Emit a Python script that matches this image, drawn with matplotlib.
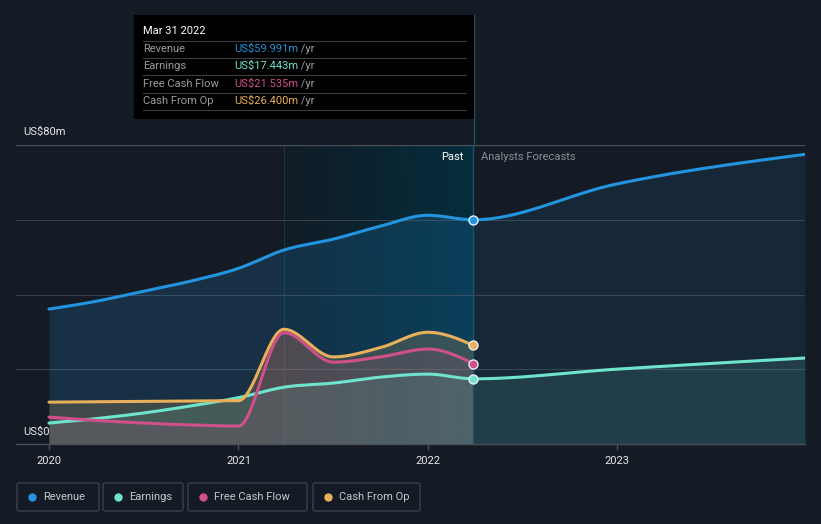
import numpy as np
import matplotlib
matplotlib.use('Agg')
import matplotlib.pyplot as plt
from matplotlib.patches import Rectangle, FancyBboxPatch
from matplotlib.colors import LinearSegmentedColormap

plt.rcParams['font.family'] = ['Roboto', 'DejaVu Sans']

# ---------------- data (US$ m) ----------------
past_t = [2020.0, 2020.25, 2020.5, 2020.75, 2021.0, 2021.24, 2021.5, 2021.75, 2022.0, 2022.24]
revenue = [36.1, 38.2, 40.9, 43.6, 47.0, 51.9, 54.8, 58.3, 61.2, 59.991]
earnings = [5.6, 6.8, 8.3, 10.2, 12.4, 15.2, 16.3, 17.9, 18.7, 17.443]
fcf = [7.2, 6.3, 5.6, 5.1, 4.8, 29.8, 21.9, 23.3, 25.4, 21.535]
cfo = [11.2, 11.3, 11.4, 11.5, 11.6, 30.7, 23.3, 25.8, 29.9, 26.4]

fc_t = [2022.24, 2022.99, 2023.99]
rev_fc = [59.991, 69.5, 77.5]
earn_fc = [17.443, 20.0, 23.0]

year_ticks = [2020, 2021, 2022, 2023]
year_labels = ['2020', '2021', '2022', '2023']
highlight_start = 2021.24
now_t = 2022.24

series_names = ['Revenue', 'Earnings', 'Free Cash Flow', 'Cash From Op']
tooltip_values = ['US$59.991m', 'US$17.443m', 'US$21.535m', 'US$26.400m']
tooltip_date = 'Mar 31 2022'

C_REV = '#2394df'
C_EARN = '#6fe3cc'
C_FCF = '#d0508a'
C_CFO = '#e9b05c'
colors = [C_REV, C_EARN, C_FCF, C_CFO]
BG = '#151b24'


def monotone(x, y, n=30):
    x = np.asarray(x, float)
    y = np.asarray(y, float)
    h = np.diff(x)
    s = np.diff(y) / h
    m = np.zeros_like(y)
    for i in range(1, len(x) - 1):
        if s[i - 1] * s[i] <= 0:
            m[i] = 0.0
        else:
            p = (s[i - 1] * h[i] + s[i] * h[i - 1]) / (h[i - 1] + h[i])
            m[i] = (np.sign(s[i - 1]) + np.sign(s[i])) * min(abs(s[i - 1]), abs(s[i]), 0.5 * abs(p))
    if len(x) > 2:
        m[0] = (3 * s[0] - m[1]) / 2
        m[-1] = (3 * s[-1] - m[-2]) / 2
    else:
        m[0] = m[-1] = s[0]
    xs, ys = [], []
    for i in range(len(x) - 1):
        t = np.linspace(0, 1, n, endpoint=(i == len(x) - 2))
        h00 = 2 * t**3 - 3 * t**2 + 1
        h10 = t**3 - 2 * t**2 + t
        h01 = -2 * t**3 + 3 * t**2
        h11 = t**3 - t**2
        xs.append(x[i] + t * h[i])
        ys.append(h00 * y[i] + h10 * h[i] * m[i] + h01 * y[i + 1] + h11 * h[i] * m[i + 1])
    return np.concatenate(xs), np.concatenate(ys)


def split_curve(t_past, v_past, t_fc, v_fc):
    xs, ys = monotone(list(t_past) + list(t_fc[1:]), list(v_past) + list(v_fc[1:]))
    pm = xs <= now_t + 1e-9
    fm = xs >= now_t - 1e-9
    return xs[pm], ys[pm], xs[fm], ys[fm]


W, H = 821, 524
fig = plt.figure(figsize=(W / 100, H / 100), dpi=100, facecolor=BG)
ax = fig.add_axes([16 / W, (H - 444) / H, (805 - 16) / W, (444 - 145) / H])
ax.set_facecolor(BG)
xmin = 2020 - 33 / 189.5
xmax = 2023.99
ax.set_xlim(xmin, xmax)
ax.set_ylim(0, 80)

# highlight (last 12 months of past) - smooth horizontal gradient
cmap = LinearSegmentedColormap.from_list('hl', ['#111c26', '#0a2431', '#062d3d'])
gx = np.linspace(highlight_start, now_t, 40)
gy = np.array([0, 80])
GX, GY = np.meshgrid(gx, gy)
GC = (GX - highlight_start) / (now_t - highlight_start)
ax.pcolormesh(GX, GY, GC, shading='gouraud', cmap=cmap, zorder=0, vmin=0, vmax=1)
ax.axvline(highlight_start, color='#1a3440', lw=0.8, zorder=0.5)

# gridlines
for gyv in [20, 40, 60]:
    ax.axhline(gyv, color='#394049', lw=0.8, zorder=1)
ax.axhline(80, color='#4a5059', lw=1.0, zorder=1)

# series curves
rx, ry, rfx, rfy = split_curve(past_t, revenue, fc_t, rev_fc)
ex, ey, efx, efy = split_curve(past_t, earnings, fc_t, earn_fc)
fx, fy = monotone(past_t, fcf)
cx, cy = monotone(past_t, cfo)

ax.fill_between(rx, 0, ry, color=C_REV, alpha=0.18, lw=0, zorder=2)
ax.fill_between(cx, 0, cy, color=C_CFO, alpha=0.20, lw=0, zorder=2)
ax.fill_between(ex, 0, ey, color=C_EARN, alpha=0.12, lw=0, zorder=2)
ax.fill_between(fx, 0, fy, color=C_FCF, alpha=0.12, lw=0, zorder=2)

ax.fill_between(rfx, 0, rfy, color=C_REV, alpha=0.10, lw=0, zorder=2)
ax.fill_between(efx, 0, efy, color=C_EARN, alpha=0.12, lw=0, zorder=2)

lw = 2.2
ax.plot(rx, ry, color=C_REV, lw=lw, zorder=5, solid_capstyle='round')
ax.plot(rfx, rfy, color=C_REV, lw=lw, zorder=5, solid_capstyle='round')
ax.plot(ex, ey, color=C_EARN, lw=lw, zorder=5, solid_capstyle='round')
ax.plot(efx, efy, color=C_EARN, lw=lw, zorder=5, solid_capstyle='round')
ax.plot(cx, cy, color=C_CFO, lw=lw, zorder=5, solid_capstyle='round')
ax.plot(fx, fy, color=C_FCF, lw=lw, zorder=5, solid_capstyle='round')

# now line
ax.axvline(now_t, color='#1d5366', lw=1.0, zorder=3)

# end markers
for val, col in [(revenue[-1], C_REV), (earnings[-1], C_EARN), (fcf[-1], C_FCF), (cfo[-1], C_CFO)]:
    ax.plot([now_t], [val], 'o', ms=6.5, mfc=col, mec='#e8eef2', mew=1.0, zorder=7)

# axes styling
for sp in ['top', 'right', 'left']:
    ax.spines[sp].set_visible(False)
ax.spines['bottom'].set_color('#4a5059')
ax.spines['bottom'].set_linewidth(1.0)
ax.set_yticks([])
ax.set_xticks(year_ticks)
ax.set_xticklabels(year_labels, color='#e6e8ea', fontsize=8)
ax.tick_params(axis='x', colors='#4a5059', length=4, width=1, pad=5, labelcolor='#e6e8ea')

ax.text(now_t - 0.05, 76.9, 'Past', color='#ffffff', fontsize=8, ha='right', va='center', zorder=8)
ax.text(now_t + 0.04, 76.9, 'Analysts Forecasts', color='#8b9098', fontsize=8, ha='left', va='center', zorder=8)

# overlay axes in pixel coordinates for tooltip, labels, legend
ov = fig.add_axes([0, 0, 1, 1], facecolor='none')
ov.set_xlim(0, W)
ov.set_ylim(H, 0)
ov.axis('off')

ov.text(23, 132, 'US$80m', color='#e6e8ea', fontsize=8, ha='left', va='center')
ov.text(23, 432, 'US$0', color='#e6e8ea', fontsize=8, ha='left', va='center')

# now line above plot
ov.plot([474, 474], [15, 145], color='#1d5366', lw=1.0)

# tooltip
ov.add_patch(Rectangle((134, 15), 340, 104, facecolor='#000000', edgecolor='none', zorder=10))
ov.text(143, 31, tooltip_date, color='#ffffff', fontsize=8, ha='left', va='center', zorder=11)
row_y = [49, 66, 84, 101]
for yy in [40.5, 57.5, 75, 92.5, 110]:
    ov.plot([143, 466], [yy, yy], color='#3a3d42', lw=0.8, zorder=11)
for name, val, col, yy in zip(series_names, tooltip_values, colors, row_y):
    ov.text(143, yy, name, color='#9a9da2', fontsize=8, ha='left', va='center', zorder=11)
    t = ov.text(234, yy, val, color=col, fontsize=8, ha='left', va='center', zorder=11)
    ov.annotate(' /yr', xy=(1, 0.5), xycoords=t, color='#9a9da2', fontsize=8,
                ha='left', va='center', zorder=11)

# legend boxes
boxes = [(17, 99), (103, 183), (188, 307), (313, 420)]
for (x0, x1), name, col in zip(boxes, series_names, colors):
    ov.add_patch(FancyBboxPatch((x0, 483), x1 - x0, 28, boxstyle='round,pad=0,rounding_size=2',
                                facecolor='none', edgecolor='#3b4048', lw=1.0))
    ov.plot([x0 + 15], [497], 'o', ms=5, color=col)
    ov.text(x0 + 26, 497, name, color='#c5c8cc', fontsize=8, ha='left', va='center')

fig.savefig('out.png', dpi=100, facecolor=BG)
